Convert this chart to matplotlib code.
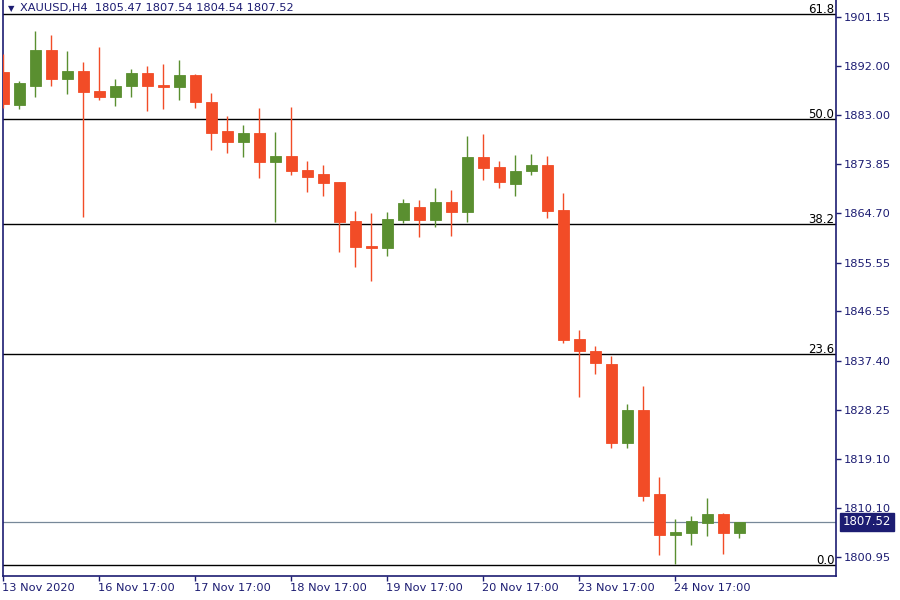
import matplotlib
matplotlib.use('Agg')
import matplotlib.pyplot as plt
import matplotlib.transforms as mtransforms

plt.rcParams['font.family'] = 'DejaVu Sans'

# XAUUSD H4 - open, high, low, close
opens = [1891.0, 1884.9, 1888.4, 1895.0, 1889.7, 1891.1, 1887.4, 1886.4, 1888.4, 1890.8,
         1888.5, 1888.2, 1890.4, 1885.4, 1880.0, 1878.0, 1879.6, 1874.3, 1875.4, 1872.8,
         1872.0, 1870.5, 1863.3, 1858.7, 1858.2, 1863.4, 1865.9, 1863.5, 1866.8, 1865.0,
         1875.2, 1873.3, 1870.2, 1872.5, 1873.7, 1865.3, 1841.4, 1839.2, 1836.8, 1822.2,
         1828.2, 1812.6, 1805.1, 1805.5, 1807.3, 1808.9, 1805.47]
highs = [1894.3, 1889.2, 1898.6, 1897.9, 1894.9, 1892.8, 1895.6, 1889.7, 1891.5, 1892.1,
         1892.4, 1893.2, 1890.6, 1887.1, 1882.8, 1881.1, 1884.3, 1879.9, 1884.5, 1874.4,
         1873.7, 1870.6, 1865.2, 1864.8, 1865.0, 1867.4, 1867.2, 1869.4, 1869.1, 1879.1,
         1879.4, 1874.4, 1875.6, 1875.7, 1875.4, 1868.5, 1843.1, 1840.1, 1838.3, 1829.3,
         1832.7, 1815.8, 1808.0, 1808.6, 1811.9, 1809.1, 1807.54]
lows = [1884.3, 1884.1, 1886.4, 1888.4, 1886.9, 1864.1, 1885.8, 1884.6, 1886.4, 1883.8,
        1884.0, 1885.8, 1884.3, 1876.5, 1876.0, 1875.2, 1871.2, 1863.2, 1871.9, 1868.6,
        1868.0, 1857.6, 1854.8, 1852.2, 1856.9, 1863.0, 1860.4, 1862.2, 1860.6, 1863.2,
        1871.0, 1869.5, 1868.0, 1871.9, 1863.9, 1840.7, 1830.7, 1835.0, 1821.1, 1821.1,
        1811.4, 1801.3, 1799.7, 1803.2, 1804.9, 1801.6, 1804.54]
closes = [1885.0, 1888.9, 1895.0, 1889.7, 1891.1, 1887.3, 1886.4, 1888.4, 1890.8, 1888.4,
          1888.2, 1890.4, 1885.3, 1879.7, 1878.0, 1879.6, 1874.3, 1875.4, 1872.6, 1871.5,
          1870.4, 1863.2, 1858.5, 1858.2, 1863.7, 1866.6, 1863.5, 1866.8, 1865.0, 1875.2,
          1873.2, 1870.6, 1872.6, 1873.7, 1865.2, 1841.3, 1839.1, 1837.0, 1822.2, 1828.2,
          1812.3, 1805.1, 1805.6, 1807.6, 1808.9, 1805.5, 1807.52]

date_labels = ['13 Nov 2020', '16 Nov 17:00', '17 Nov 17:00', '18 Nov 17:00',
               '19 Nov 17:00', '20 Nov 17:00', '23 Nov 17:00', '24 Nov 17:00']
date_bars = [0, 6, 12, 18, 24, 30, 36, 42]

price_ticks = [1800.95, 1810.10, 1819.10, 1828.25, 1837.40, 1846.55,
               1855.55, 1864.70, 1873.85, 1883.00, 1892.00, 1901.15]

# poziomy Fibonacciego
fib_labels = ['0.0', '23.6', '38.2', '50.0', '61.8']
fib_prices = [1799.47, 1838.62, 1862.74, 1882.23, 1901.71]

current_price = 1807.52

navy = '#1c1c72'
red = '#f24c27'
green = '#5a8f30'

fig = plt.figure(figsize=(9, 6), dpi=100)
ax = fig.add_axes([3 / 900, 24 / 600, 833 / 900, 576 / 600])
blend = mtransforms.blended_transform_factory(ax.transAxes, ax.transData)

# swiece
for i in range(len(opens)):
    o, h, l, c = opens[i], highs[i], lows[i], closes[i]
    col = green if c >= o else red
    ax.vlines(i, l, h, color=col, linewidth=1.0, zorder=3)
    ax.bar(i, abs(c - o), bottom=min(o, c), width=0.68, color=col,
           edgecolor=col, linewidth=0.6, zorder=4)

# linie Fibonacciego
for lab, p in zip(fib_labels, fib_prices):
    ax.axhline(p, color='black', linewidth=1.0, zorder=2)
    ax.text(0.998, p + 0.25, lab, transform=blend,
            ha='right', va='baseline', fontsize=8.5, color='black', zorder=5)

# aktualna cena
ax.axhline(current_price, color='#778899', linewidth=0.9, zorder=1)
ax.text(1.008, current_price, '%.2f' % current_price, transform=blend,
        ha='left', va='center', fontsize=8.5, color='white', zorder=6,
        bbox=dict(boxstyle='square,pad=0.22', facecolor=navy, edgecolor=navy),
        clip_on=False)

ax.set_xlim(-0.02, 52.04)
ax.set_ylim(1797.43, 1904.31)

ax.yaxis.tick_right()
ax.set_yticks(price_ticks)
ax.set_yticklabels(['%.2f' % p for p in price_ticks])
ax.tick_params(axis='y', direction='out', length=3.5, width=1, colors=navy,
               labelsize=8.2, pad=2, labelcolor=navy)

ax.set_xticks(date_bars)
ax.set_xticklabels(date_labels, ha='left')
ax.tick_params(axis='x', direction='out', length=3.5, width=1, colors=navy,
               labelsize=8.2, pad=1.5, labelcolor=navy)
for lbl in ax.get_xticklabels():
    lbl.set_transform(lbl.get_transform() + mtransforms.ScaledTranslation(-1.5 / 100, 0, fig.dpi_scale_trans))

for side in ['left', 'right', 'bottom']:
    ax.spines[side].set_color(navy)
    ax.spines[side].set_linewidth(1.2)
ax.spines['top'].set_visible(False)

# tytul
fig.text(8 / 900, 1 - 9 / 600, '\u25bc', fontsize=6, color=navy, va='center', ha='left')
fig.text(20 / 900, 1 - 8 / 600, 'XAUUSD,H4  1805.47 1807.54 1804.54 1807.52',
         fontsize=8.2, color=navy, va='center', ha='left')

fig.savefig('out.png', dpi=100)
